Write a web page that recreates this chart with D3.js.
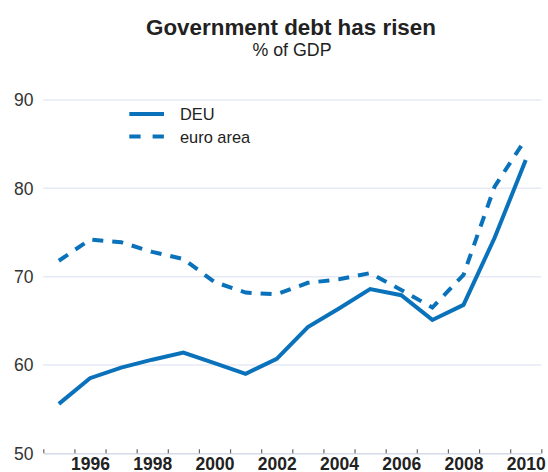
<!DOCTYPE html>
<html>
<head>
<meta charset="utf-8">
<script src="https://cdn.jsdelivr.net/npm/d3@7"></script>
<style>
  html, body { margin: 0; padding: 0; background: #fff; }
  svg { display: block; font-family: "Liberation Sans", Arial, sans-serif; }
</style>
</head>
<body>
<svg id="chart" width="548" height="472"></svg>
<script>
const years = [1995,1996,1997,1998,1999,2000,2001,2002,2003,2004,2005,2006,2007,2008,2009,2010];
const deu = [55.6,58.5,59.7,60.6,61.4,60.2,59.0,60.7,64.3,66.4,68.6,67.9,65.1,66.8,74.4,83.2];
const euroArea = [71.8,74.2,73.9,72.8,72.0,69.4,68.2,68.0,69.3,69.7,70.4,68.5,66.5,70.2,80.2,85.6];
const yTicks = [50,60,70,80,90];
const xLabels = [1996,1998,2000,2002,2004,2006,2008,2010];
const seriesNames = ["DEU","euro area"];
const title = "Government debt has risen";
const subtitle = "% of GDP";

const color = "#0a72ba";
const svg = d3.select("#chart");

const x = d3.scaleLinear().domain([1994.5, 2010.5]).range([43.3, 541.3]);
const y = d3.scaleLinear().domain([50, 90]).range([453.3, 100]);

// title
svg.append("text").attr("x", 291).attr("y", 35).attr("text-anchor", "middle")
  .attr("font-size", 22.4).attr("font-weight", "bold").attr("fill", "#222").text(title);
svg.append("text").attr("x", 292).attr("y", 55.5).attr("text-anchor", "middle")
  .attr("font-size", 17.8).attr("fill", "#222").text(subtitle);

// gridlines
svg.append("g").selectAll("line").data(yTicks.filter(d => d > 50)).join("line")
  .attr("x1", x.range()[0]).attr("x2", x.range()[1])
  .attr("y1", d => y(d)).attr("y2", d => y(d))
  .attr("stroke", "#e6e9f6").attr("stroke-width", 1.5);

// y labels
svg.append("g").selectAll("text").data(yTicks).join("text")
  .attr("x", 33.5).attr("y", d => y(d)).attr("dy", "0.36em")
  .attr("text-anchor", "end").attr("font-size", 17.5).attr("fill", "#333")
  .text(d => d);

// x axis baseline + ticks
const tickVals = d3.range(1994.5, 2011, 1);
const xAxisTicks = d3.axisBottom(x).tickValues(tickVals).tickSize(-4).tickFormat("").tickSizeOuter(0);
const gx = svg.append("g").attr("transform", `translate(0,${y(50)})`).call(xAxisTicks);
gx.select(".domain").attr("stroke", "#d6d9e6").attr("stroke-width", 1.5);
gx.selectAll(".tick line").attr("stroke", "#666").attr("stroke-width", 1.2);

// x labels
const xAxisLabels = d3.axisBottom(x).tickValues(xLabels).tickSize(0).tickFormat(d3.format("d"));
const gl = svg.append("g").attr("transform", `translate(0,${y(50)})`).call(xAxisLabels);
gl.select(".domain").remove();
gl.selectAll("text").attr("font-size", 17.5).attr("font-weight", "bold")
  .attr("fill", "#222").attr("font-family", "Liberation Sans, Arial, sans-serif")
  .attr("dy", null).attr("y", 17.2);

// lines
const line = d3.line().x((d, i) => x(years[i])).y(d => y(d));
svg.append("path").datum(euroArea).attr("d", line).attr("fill", "none")
  .attr("stroke", color).attr("stroke-width", 4).attr("stroke-dasharray", "11,9");
svg.append("path").datum(deu).attr("d", line).attr("fill", "none")
  .attr("stroke", color).attr("stroke-width", 4);

// legend
const lg = svg.append("g");
const legY = [114, 136.5];
lg.selectAll("line").data(seriesNames).join("line")
  .attr("x1", 129.3).attr("x2", 164).attr("y1", (d, i) => legY[i]).attr("y2", (d, i) => legY[i])
  .attr("stroke", color).attr("stroke-width", 4)
  .attr("stroke-dasharray", (d, i) => i === 1 ? "11.3,12" : null);
lg.selectAll("text").data(seriesNames).join("text")
  .attr("x", 180).attr("y", (d, i) => legY[i] + 6)
  .attr("font-size", 16.4).attr("fill", "#222").text(d => d);
</script>
</body>
</html>
